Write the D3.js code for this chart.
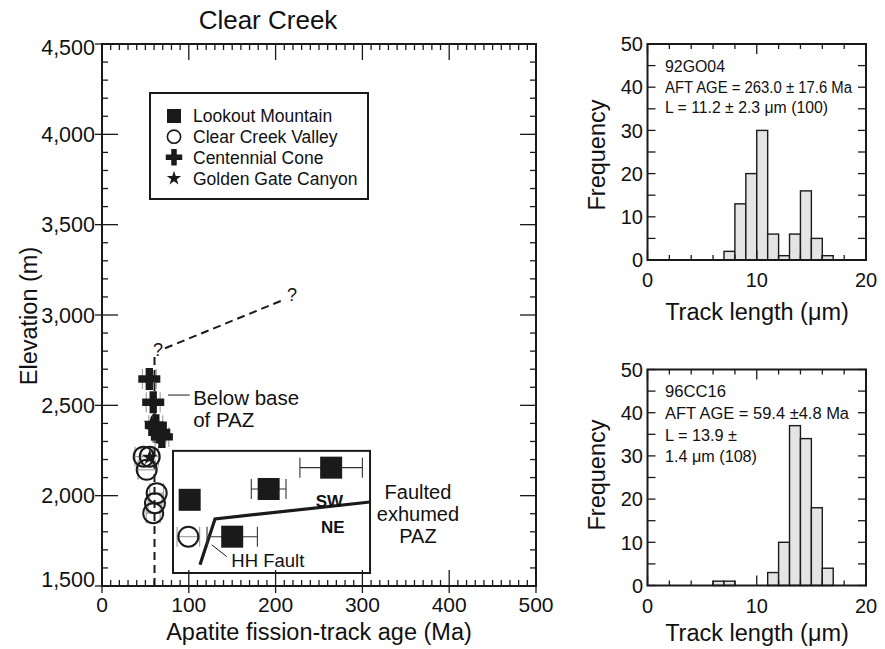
<!DOCTYPE html>
<html><head><meta charset="utf-8">
<script src="https://cdn.jsdelivr.net/npm/d3@7/dist/d3.min.js"></script>
<style>body{margin:0;background:#fff}svg{display:block}text{font-family:"Liberation Sans",Arial,Helvetica,sans-serif;fill:#111}</style>
</head><body><svg id="c" width="885" height="649"></svg>
<script>
// ---------- DATA ----------
const lookoutAge  = [101, 192, 264, 150];
const lookoutElev = [1977, 2037, 2155, 1773];
const lookoutErr  = [0, 20, 36, 29];

const valleyAge  = [48, 55, 51.5, 63, 61, 59, 99.5];
const valleyElev = [2216, 2216, 2143, 2014, 1958, 1903, 1773];
const valleyErr  = [10, 10, 10, 8, 8, 8, 13];

const coneAge  = [54.5, 59, 62, 66, 69];
const coneElev = [2646, 2517, 2390, 2350, 2325];
const coneErr  = [8, 8, 8, 8, 8];

const gateAge  = [57, 63, 55];
const gateElev = [2400, 2340, 2212];

const legendLabels = ["Lookout Mountain", "Clear Creek Valley", "Centennial Cone", "Golden Gate Canyon"];

const yTickLabels = [1500, 2000, 2500, 3000, 3500, 4000, 4500];
const xTickLabels = [0, 100, 200, 300, 400, 500];

// PAZ base (dashed) and fault trace, in data units (age Ma, elevation m)
const pazBaseAge  = [60.5, 60.5];
const pazBaseElev = [1500, 2779];
const pazExtAge   = [72.6, 210.8];
const pazExtElev  = [2816, 3087];
const faultAge    = [112.9, 130.2, 308.8];
const faultElev   = [1617, 1871, 1965];

// Histograms (1 µm bins from 0 to 20)
const binEdges = [0,1,2,3,4,5,6,7,8,9,10,11,12,13,14,15,16,17,18,19,20];
const hist92GO04 = [0,0,0,0,0,0,0,2,13,20,30,6,1,6,16,5,1,0,0,0];
const hist96CC16 = [0,0,0,0,0,0,1,1,0,0,0,3,10,37,34,18,4,0,0,0];
const histXTicks = [0, 10, 20];
const histYTicks = [0, 10, 20, 30, 40, 50];
const text92 = ["92GO04", "AFT AGE = 263.0 \u00b1 17.6 Ma", "L = 11.2 \u00b1 2.3 \u03bcm (100)"];
const text96 = ["96CC16", "AFT AGE = 59.4 \u00b14.8 Ma", "L = 13.9 \u00b1", "1.4 \u03bcm (108)"];

// ---------- DRAW ----------
const svg = d3.select("#c");
const x = d3.scaleLinear().domain([0, 500]).range([102, 536]);
const y = d3.scaleLinear().domain([1500, 4500]).range([586, 44]);
const ink = "#1a1a1a";

const g = svg.append("g");
g.append("rect").attr("x", x(0)).attr("y", y(4500)).attr("width", x(500)-x(0)).attr("height", y(1500)-y(4500))
  .attr("fill", "none").attr("stroke", ink).attr("stroke-width", 2);

const yMinor = d3.range(1500, 4501, 100);
const xMinor = d3.range(0, 501, 10);
const tk = g.append("g").attr("stroke", ink).attr("stroke-width", 1.3);
yMinor.forEach(v => {
  const maj = v % 500 === 0;
  tk.append("line").attr("x1", maj ? x(0)-7 : x(0)).attr("x2", x(0) + (maj ? 16 : 6)).attr("y1", y(v)).attr("y2", y(v));
  tk.append("line").attr("x1", x(500)).attr("x2", x(500) - (maj ? 16 : 6)).attr("y1", y(v)).attr("y2", y(v));
});
xMinor.forEach(v => {
  const maj = v % 100 === 0;
  tk.append("line").attr("y1", maj ? y(1500)+7 : y(1500)).attr("y2", y(1500) - (maj ? 16 : 6)).attr("x1", x(v)).attr("x2", x(v));
  tk.append("line").attr("y1", y(4500)).attr("y2", y(4500) + (maj ? 16 : 6)).attr("x1", x(v)).attr("x2", x(v));
});
const fmt = d3.format(",");
g.selectAll(".yl").data(yTickLabels).join("text").attr("x", 95).attr("y", d => y(d))
  .attr("dy", d => d === 4500 ? "0.5em" : d === 1500 ? "0.05em" : "0.36em")
  .attr("text-anchor", "end").attr("font-size", 21.5).text(d => fmt(d));
g.selectAll(".xl").data(xTickLabels).join("text").attr("x", d => x(d)).attr("y", 612)
  .attr("text-anchor", "middle").attr("font-size", 21).text(d => d);

svg.append("text").attr("x", 268).attr("y", 29).attr("text-anchor", "middle").attr("font-size", 26).text("Clear Creek");
svg.append("text").attr("transform", "translate(37,316) rotate(-90)").attr("text-anchor", "middle").attr("font-size", 23.5).text("Elevation (m)");
svg.append("text").attr("x", 319).attr("y", 640).attr("text-anchor", "middle").attr("font-size", 23.5).text("Apatite fission-track age (Ma)");

const line = d3.line();
g.append("path").attr("d", line(pazBaseAge.map((a, i) => [x(a), y(pazBaseElev[i])])))
  .attr("fill", "none").attr("stroke", ink).attr("stroke-width", 2).attr("stroke-dasharray", "8,5");
g.append("path").attr("d", line(pazExtAge.map((a, i) => [x(a), y(pazExtElev[i])])))
  .attr("fill", "none").attr("stroke", ink).attr("stroke-width", 2).attr("stroke-dasharray", "8,5");
g.append("text").attr("x", x(64.5)).attr("y", y(2807)).attr("dy", "0.36em").attr("text-anchor", "middle").attr("font-size", 18).text("?");
g.append("text").attr("x", x(219)).attr("y", y(3111)).attr("dy", "0.36em").attr("text-anchor", "middle").attr("font-size", 18).text("?");

g.append("rect").attr("x", x(81.8)).attr("y", y(2248)).attr("width", x(308.8)-x(81.8)).attr("height", y(1572)-y(2248))
  .attr("fill", "none").attr("stroke", ink).attr("stroke-width", 2);
g.append("path").attr("d", line(faultAge.map((a, i) => [x(a), y(faultElev[i])])))
  .attr("fill", "none").attr("stroke", ink).attr("stroke-width", 3.2);
g.append("line").attr("x1", x(126.4)).attr("y1", y(1728)).attr("x2", x(143.7)).attr("y2", y(1663)).attr("stroke", ink).attr("stroke-width", 1);
g.append("text").attr("x", x(149)).attr("y", y(1606)).attr("font-size", 18.5).text("HH Fault");
g.append("text").attr("x", x(262)).attr("y", y(1935)).attr("text-anchor", "middle").attr("font-size", 17).attr("font-weight", "bold").text("SW");
g.append("text").attr("x", x(266)).attr("y", y(1795)).attr("text-anchor", "middle").attr("font-size", 17).attr("font-weight", "bold").text("NE");
["Faulted", "exhumed", "PAZ"].forEach((t, i) => {
  g.append("text").attr("x", x(364)).attr("y", y(1982) + i * 22).attr("text-anchor", "middle").attr("font-size", 20).text(t);
});
g.append("line").attr("x1", x(76)).attr("x2", x(101)).attr("y1", y(2557)).attr("y2", y(2557)).attr("stroke", ink).attr("stroke-width", 1);
g.append("text").attr("x", x(105)).attr("y", y(2502)).attr("font-size", 20.5).text("Below base");
g.append("text").attr("x", x(105)).attr("y", y(2502) + 22).attr("font-size", 20.5).text("of PAZ");

function errBars(ages, elevs, errs, color) {
  const eb = g.append("g").attr("stroke", color).attr("stroke-width", 1.1);
  ages.forEach((a, i) => {
    if (!errs[i]) return;
    const yy = y(elevs[i]), x1 = x(a - errs[i]), x2 = x(a + errs[i]);
    eb.append("line").attr("x1", x1).attr("x2", x2).attr("y1", yy).attr("y2", yy);
    eb.append("line").attr("x1", x1).attr("x2", x1).attr("y1", yy - 10).attr("y2", yy + 10);
    eb.append("line").attr("x1", x2).attr("x2", x2).attr("y1", yy - 10).attr("y2", yy + 10);
  });
}
errBars(valleyAge, valleyElev, valleyErr, "#9a9a9a");
errBars(coneAge, coneElev, coneErr, "#9a9a9a");
errBars(lookoutAge, lookoutElev, lookoutErr, "#333");

const cross = d3.symbol().type(d3.symbolCross).size(270);
const star = d3.symbol().type(d3.symbolStar).size(80);
g.selectAll(".cone").data(coneAge).join("path").attr("d", cross)
  .attr("transform", (d, i) => `translate(${x(d)},${y(coneElev[i])})`).attr("fill", ink);
g.selectAll(".gate").data(gateAge).join("path").attr("d", star)
  .attr("transform", (d, i) => `translate(${x(d)},${y(gateElev[i])})`).attr("fill", ink);
g.selectAll(".valley").data(valleyAge).join("circle").attr("cx", d => x(d)).attr("cy", (d, i) => y(valleyElev[i]))
  .attr("r", 10).attr("fill", "none").attr("stroke", ink).attr("stroke-width", 2);
g.selectAll(".look").data(lookoutAge).join("rect").attr("x", d => x(d) - 11).attr("y", (d, i) => y(lookoutElev[i]) - 11)
  .attr("width", 22).attr("height", 22).attr("fill", ink);

const lg = svg.append("g").attr("transform", "translate(150,93)");
lg.append("rect").attr("width", 218).attr("height", 106).attr("fill", "none").attr("stroke", ink).attr("stroke-width", 2);
const rows = [23, 43.7, 64.3, 85.3];
legendLabels.forEach((t, i) => {
  const r = lg.append("g").attr("transform", `translate(24,${rows[i]})`);
  if (i === 0) r.append("rect").attr("x", -7).attr("y", -7).attr("width", 14).attr("height", 14).attr("fill", ink);
  if (i === 1) r.append("circle").attr("r", 6.6).attr("fill", "none").attr("stroke", ink).attr("stroke-width", 1.6);
  if (i === 2) r.append("path").attr("d", d3.symbol().type(d3.symbolCross).size(150)).attr("fill", ink);
  if (i === 3) r.append("path").attr("d", d3.symbol().type(d3.symbolStar).size(65)).attr("fill", ink);
  lg.append("text").attr("x", 43).attr("y", rows[i]).attr("dy", "0.36em").attr("font-size", 17.5).text(t);
});

function histogram(counts, y0, y1, lines, baselines, widths, titleY, freqY) {
  const hx = d3.scaleLinear().domain([0, 20]).range([647.5, 866]);
  const hy = d3.scaleLinear().domain([0, 50]).range([y1, y0]);
  const h = svg.append("g");
  h.selectAll(".bar").data(counts.map((c, i) => ({c, a: binEdges[i], b: binEdges[i + 1]})).filter(d => d.c > 0))
    .join("rect").attr("x", d => hx(d.a)).attr("width", d => hx(d.b) - hx(d.a))
    .attr("y", d => hy(d.c)).attr("height", d => hy(0) - hy(d.c))
    .attr("fill", "#e4e4e4").attr("stroke", ink).attr("stroke-width", 1.4);
  h.append("rect").attr("x", hx(0)).attr("y", hy(50)).attr("width", hx(20) - hx(0)).attr("height", hy(0) - hy(50))
    .attr("fill", "none").attr("stroke", ink).attr("stroke-width", 2);
  const t = h.append("g").attr("stroke", ink).attr("stroke-width", 1.3);
  d3.range(0, 51, 5).forEach(v => {
    t.append("line").attr("x1", hx(0)).attr("x2", hx(0) + 8).attr("y1", hy(v)).attr("y2", hy(v));
    t.append("line").attr("x1", hx(20)).attr("x2", hx(20) - 8).attr("y1", hy(v)).attr("y2", hy(v));
  });
  d3.range(0, 21, 2).forEach(v => {
    const L = v % 10 === 0 ? 10 : 5;
    t.append("line").attr("x1", hx(v)).attr("x2", hx(v)).attr("y1", hy(0)).attr("y2", hy(0) - L);
    t.append("line").attr("x1", hx(v)).attr("x2", hx(v)).attr("y1", hy(50)).attr("y2", hy(50) + L);
  });
  h.selectAll(".hyl").data(histYTicks).join("text").attr("x", 643).attr("y", d => hy(d)).attr("dy", "0.36em")
    .attr("text-anchor", "end").attr("font-size", 20).text(d => d);
  h.selectAll(".hxl").data(histXTicks).join("text").attr("x", d => hx(d)).attr("y", hy(0) + 27)
    .attr("text-anchor", "middle").attr("font-size", 20).text(d => d);
  h.append("text").attr("x", 757).attr("y", titleY).attr("text-anchor", "middle").attr("font-size", 23.5).text("Track length (\u03bcm)");
  h.append("text").attr("transform", `translate(605,${freqY}) rotate(-90)`).attr("text-anchor", "middle").attr("font-size", 23.5).text("Frequency");
  lines.forEach((s, i) => {
    h.append("text").attr("x", 665).attr("y", baselines[i]).attr("font-size", 16)
      .attr("textLength", widths[i]).attr("lengthAdjust", "spacingAndGlyphs").text(s);
  });
}
histogram(hist92GO04, 44, 260, text92, [72, 92.5, 113], [60, 187, 163], 320, 155);
histogram(hist96CC16, 369.5, 585.5, text96, [397, 419, 441, 462], [61, 184, 72, 92], 641, 475);
</script></body></html>
